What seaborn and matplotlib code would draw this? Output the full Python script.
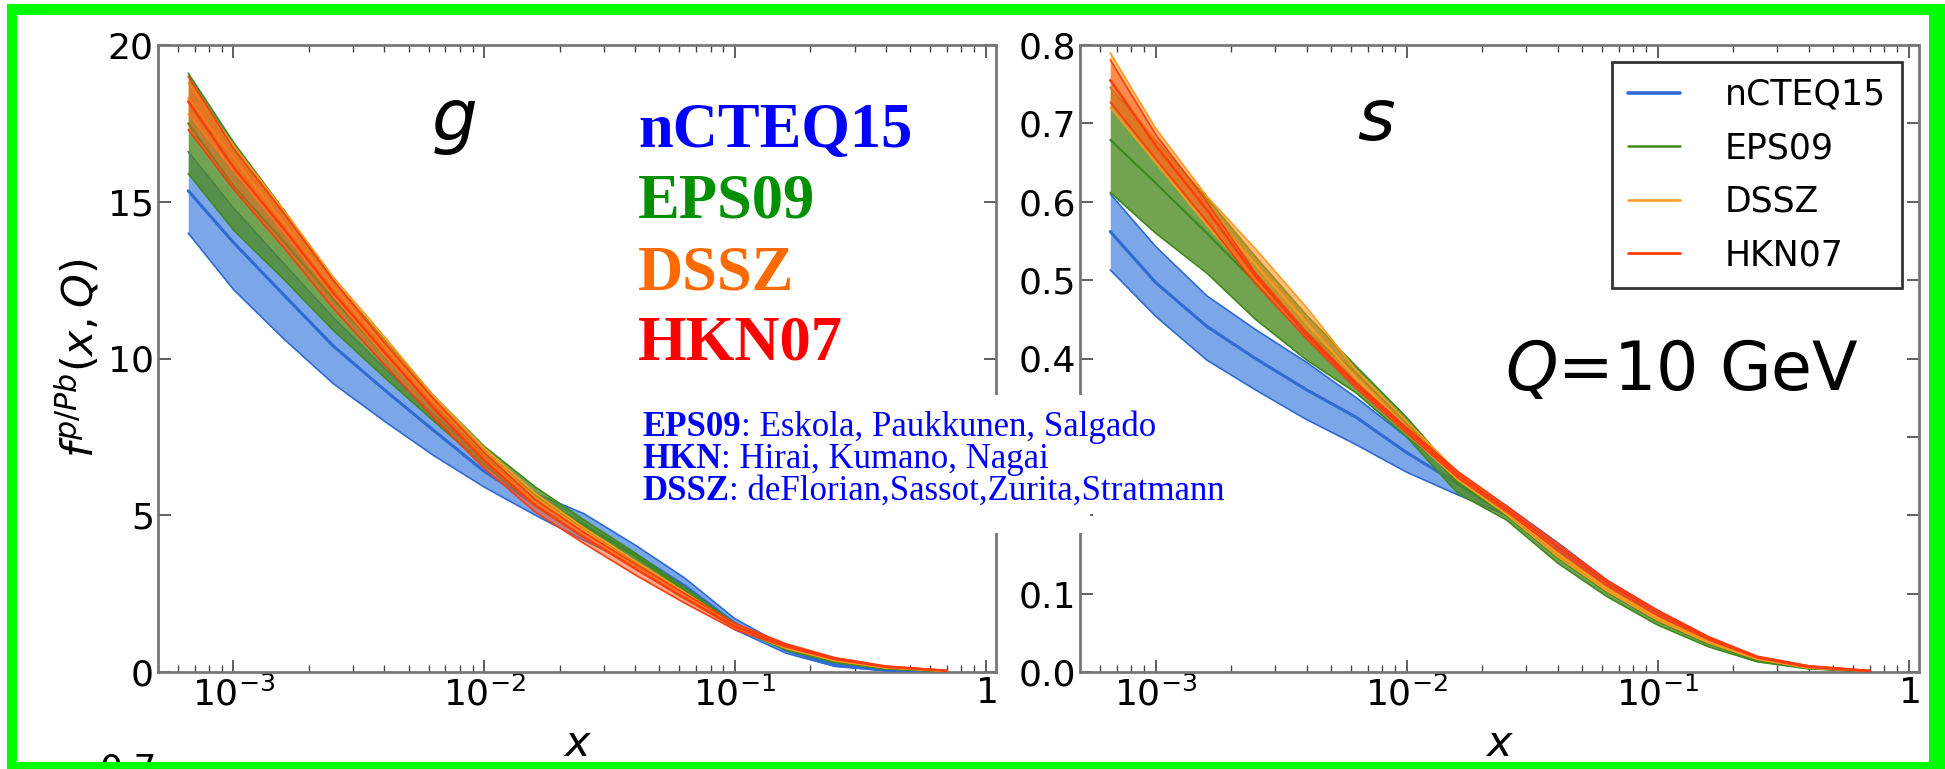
import matplotlib
matplotlib.use("Agg")
import numpy as np
import pandas as pd
import matplotlib.pyplot as plt
import seaborn as sns
from matplotlib.lines import Line2D
from matplotlib.patches import Rectangle
from matplotlib.ticker import FixedLocator, LogLocator, FixedFormatter, NullFormatter

# ---- data ----
x_vals = [6.6e-4, 1e-3, 1.6e-3, 2.5e-3, 4e-3, 6.3e-3, 1e-2, 1.6e-2, 2.5e-2,
          4e-2, 6.3e-2, 0.1, 0.16, 0.25, 0.4, 0.7]

sets = ["nCTEQ15", "EPS09", "DSSZ", "HKN07"]

# gluon panel (lower, central, upper)
g_ncteq_lo = [14.0, 12.2, 10.6, 9.2, 8.0, 6.9, 5.9, 5.0, 4.2, 3.4, 2.45, 1.35, 0.6, 0.18, 0.04, 0.0]
g_ncteq_c = [15.35, 13.7, 12.0, 10.4, 9.0, 7.7, 6.4, 5.35, 4.65, 3.75, 2.75, 1.55, 0.7, 0.22, 0.06, 0.0]
g_ncteq_hi = [16.6, 14.8, 13.0, 11.3, 9.7, 8.2, 6.85, 5.7, 5.05, 4.05, 3.0, 1.7, 0.8, 0.26, 0.07, 0.01]
g_eps_lo = [15.9, 14.1, 12.5, 10.9, 9.4, 8.0, 6.6, 5.3, 4.5, 3.5, 2.45, 1.4, 0.7, 0.3, 0.1, 0.02]
g_eps_c = [17.5, 15.5, 13.7, 11.9, 10.1, 8.5, 6.9, 5.6, 4.7, 3.7, 2.6, 1.48, 0.75, 0.33, 0.11, 0.02]
g_eps_hi = [19.1, 16.9, 14.7, 12.5, 10.6, 8.8, 7.2, 5.9, 4.85, 3.8, 2.7, 1.55, 0.8, 0.36, 0.12, 0.03]
g_dssz_lo = [17.8, 16.0, 14.0, 12.0, 10.1, 8.4, 6.8, 5.4, 4.4, 3.35, 2.35, 1.4, 0.75, 0.36, 0.13, 0.03]
g_dssz_c = [18.3, 16.4, 14.3, 12.3, 10.4, 8.6, 7.0, 5.55, 4.5, 3.45, 2.45, 1.45, 0.8, 0.38, 0.14, 0.03]
g_dssz_hi = [18.8, 16.8, 14.7, 12.6, 10.7, 8.8, 7.15, 5.7, 4.6, 3.55, 2.55, 1.5, 0.85, 0.4, 0.15, 0.04]
g_hkn_lo = [17.3, 15.4, 13.5, 11.6, 9.8, 8.1, 6.5, 5.1, 4.1, 3.1, 2.2, 1.35, 0.8, 0.4, 0.16, 0.04]
g_hkn_c = [18.2, 16.1, 14.1, 12.1, 10.2, 8.4, 6.75, 5.3, 4.3, 3.3, 2.35, 1.45, 0.85, 0.43, 0.17, 0.04]
g_hkn_hi = [19.0, 16.7, 14.6, 12.5, 10.5, 8.7, 7.0, 5.5, 4.45, 3.45, 2.5, 1.55, 0.9, 0.46, 0.19, 0.05]

# strange panel (lower, central, upper)
s_ncteq_lo = [0.513, 0.454, 0.398, 0.360, 0.322, 0.290, 0.255, 0.226, 0.200, 0.150, 0.105, 0.067, 0.038, 0.016, 0.005, 0.001]
s_ncteq_c = [0.562, 0.497, 0.441, 0.400, 0.360, 0.325, 0.280, 0.240, 0.207, 0.158, 0.111, 0.073, 0.041, 0.018, 0.006, 0.001]
s_ncteq_hi = [0.610, 0.543, 0.480, 0.437, 0.395, 0.350, 0.300, 0.250, 0.212, 0.165, 0.117, 0.077, 0.044, 0.019, 0.007, 0.001]
s_eps_lo = [0.612, 0.560, 0.509, 0.450, 0.398, 0.356, 0.300, 0.228, 0.194, 0.139, 0.096, 0.060, 0.032, 0.013, 0.004, 0.0005]
s_eps_c = [0.679, 0.624, 0.560, 0.497, 0.433, 0.382, 0.318, 0.240, 0.200, 0.146, 0.102, 0.065, 0.036, 0.015, 0.005, 0.001]
s_eps_hi = [0.746, 0.679, 0.605, 0.530, 0.455, 0.390, 0.325, 0.250, 0.206, 0.153, 0.108, 0.070, 0.039, 0.017, 0.006, 0.001]
s_dssz_lo = [0.720, 0.650, 0.570, 0.500, 0.430, 0.365, 0.305, 0.245, 0.201, 0.147, 0.103, 0.066, 0.037, 0.016, 0.005, 0.001]
s_dssz_c = [0.755, 0.675, 0.590, 0.520, 0.445, 0.375, 0.312, 0.250, 0.205, 0.151, 0.106, 0.069, 0.039, 0.017, 0.006, 0.001]
s_dssz_hi = [0.790, 0.694, 0.607, 0.540, 0.465, 0.385, 0.320, 0.255, 0.209, 0.155, 0.110, 0.072, 0.041, 0.018, 0.007, 0.001]
s_hkn_lo = [0.727, 0.655, 0.575, 0.495, 0.425, 0.362, 0.305, 0.248, 0.205, 0.155, 0.110, 0.072, 0.041, 0.018, 0.006, 0.001]
s_hkn_c = [0.755, 0.672, 0.590, 0.505, 0.430, 0.366, 0.309, 0.252, 0.208, 0.160, 0.114, 0.076, 0.043, 0.019, 0.007, 0.001]
s_hkn_hi = [0.781, 0.686, 0.600, 0.509, 0.433, 0.369, 0.312, 0.256, 0.212, 0.164, 0.117, 0.079, 0.045, 0.020, 0.008, 0.002]

x_ticks = [1e-3, 1e-2, 1e-1, 1.0]
x_tick_labels = [r"$10^{-3}$", r"$10^{-2}$", r"$10^{-1}$", r"$1$"]
g_yticks = [0, 5, 10, 15, 20]
s_yticks = [0.0, 0.1, 0.2, 0.3, 0.4, 0.5, 0.6, 0.7, 0.8]
# 0.2 and 0.3 sit under the pasted reference box in the picture
s_ytick_labels = ["0.0", "0.1", "", "", "0.4", "0.5", "0.6", "0.7", "0.8"]

# ---- styling ----
line_colors = ["#2f6bd3", "#3f8a1e", "#ff9a1f", "#ff3c0f"]
fill_colors = ["#6d9ce6", "#4f8c24", "#ff8c1a", "#ff5a1a"]
fill_alpha = [0.9, 0.8, 0.55, 0.5]
mid_width = [2.2, 1.6, 1.6, 1.8]

W, H = 1945, 769


def panel_frame(bands):
    rows = []
    for name, (lo, mid, hi) in zip(sets, bands):
        for kind, vals in (("lo", lo), ("mid", mid), ("hi", hi)):
            for xv, yv in zip(x_vals, vals):
                rows.append((name, kind, xv, yv))
    return pd.DataFrame(rows, columns=["set", "kind", "x", "f"])


g_df = panel_frame([(g_ncteq_lo, g_ncteq_c, g_ncteq_hi), (g_eps_lo, g_eps_c, g_eps_hi),
                    (g_dssz_lo, g_dssz_c, g_dssz_hi), (g_hkn_lo, g_hkn_c, g_hkn_hi)])
s_df = panel_frame([(s_ncteq_lo, s_ncteq_c, s_ncteq_hi), (s_eps_lo, s_eps_c, s_eps_hi),
                    (s_dssz_lo, s_dssz_c, s_dssz_hi), (s_hkn_lo, s_hkn_c, s_hkn_hi)])

sns.set_style("ticks")
plt.rcParams["font.family"] = ["DejaVu Sans"]
plt.rcParams["mathtext.fontset"] = "dejavusans"
for key in ["text.color", "axes.labelcolor", "xtick.labelcolor", "ytick.labelcolor"]:
    plt.rcParams[key] = "black"

fig = plt.figure(figsize=(W / 100, H / 100), dpi=100, facecolor="white")
ax1 = fig.add_axes([158 / W, 1 - 672 / H, (996 - 158) / W, (672 - 45) / H])
ax2 = fig.add_axes([1080 / W, 1 - 672 / H, (1919 - 1080) / W, (672 - 45) / H])


def draw_panel(ax, df, ymax, yticks, ylabels):
    for i, name in enumerate(sets):
        sub = df[df["set"] == name]
        lo = sub[sub["kind"] == "lo"]
        hi = sub[sub["kind"] == "hi"]
        ax.fill_between(lo["x"].values, lo["f"].values, hi["f"].values,
                        color=fill_colors[i], alpha=fill_alpha[i], lw=0, zorder=2 + 2 * i)
        edges = sub[sub["kind"] != "mid"]
        sns.lineplot(data=edges, x="x", y="f", units="kind", estimator=None,
                     color=line_colors[i], lw=1.2, ax=ax, legend=False, zorder=3 + 2 * i)
        sns.lineplot(data=sub[sub["kind"] == "mid"], x="x", y="f", estimator=None,
                     color=line_colors[i], lw=mid_width[i], ax=ax, legend=False, zorder=3 + 2 * i)
    ax.set_xscale("log")
    ax.set_xlim(5e-4, 1.1)
    ax.set_ylim(0, ymax)
    ax.xaxis.set_major_locator(FixedLocator(x_ticks))
    ax.xaxis.set_major_formatter(FixedFormatter(x_tick_labels))
    ax.xaxis.set_minor_locator(LogLocator(base=10, subs=np.arange(2, 10), numticks=20))
    ax.xaxis.set_minor_formatter(NullFormatter())
    ax.set_yticks(yticks)
    ax.set_yticklabels(ylabels)
    ax.tick_params(which="both", direction="in", top=True, right=True,
                   color="#444444", labelsize=26, pad=3, labelcolor="black")
    ax.tick_params(which="major", length=9, width=1.2)
    ax.tick_params(which="minor", length=5, width=1.0)
    for sp in ax.spines.values():
        sp.set_color("#777777")
        sp.set_linewidth(2)
        sp.set_visible(True)
    ax.set_xlabel(r"$x$", fontsize=31, labelpad=8, color="black")
    ax.set_ylabel("")


draw_panel(ax1, g_df, 20, g_yticks, [str(v) for v in g_yticks])
draw_panel(ax2, s_df, 0.8, s_yticks, s_ytick_labels)

ax1.set_ylabel(r"$f^{p/Pb}(x,Q)$", fontsize=31, labelpad=4, color="black")

ax1.text(0.353, 0.848, r"$g$", transform=ax1.transAxes, fontsize=52,
         ha="center", va="baseline", color="black")
ax2.text(0.353, 0.848, r"$s$", transform=ax2.transAxes, fontsize=52,
         ha="center", va="baseline", color="black")
ax2.text(0.507, 0.45, r"$Q$=10 GeV", transform=ax2.transAxes, fontsize=48,
         ha="left", va="baseline", color="black")

handles = [Line2D([], [], color=c, lw=w) for c, w in zip(line_colors, [2.6, 1.8, 1.8, 2.0])]
leg = ax2.legend(handles, sets, loc="upper right", fontsize=25, frameon=True,
                 fancybox=False, framealpha=1, edgecolor="#333333",
                 borderaxespad=0.5, borderpad=0.45, handlelength=1.5,
                 handletextpad=1.3, labelspacing=0.56)
leg.get_frame().set_linewidth(2)
for t in leg.get_texts():
    t.set_color("black")
leg.set_zorder(20)

# ---- overlay: pasted labels, reference box, green frame ----
ov = fig.add_axes([0, 0, 1, 1], zorder=10)
ov.set_xlim(0, W)
ov.set_ylim(H, 0)
ov.axis("off")

big_labels = [("nCTEQ15", "#0000ff", 147), ("EPS09", "#009000", 218),
              ("DSSZ", "#ff6a00", 289), ("HKN07", "#ff0000", 360)]
for txt, col, yb in big_labels:
    ov.text(638, yb, txt, color=col, fontsize=45, fontweight="bold",
            family="Liberation Serif", ha="left", va="baseline")

ov.add_patch(Rectangle((623, 395), 1090 - 623, 533 - 395, facecolor="white",
                       edgecolor="none", zorder=5))
refs = [("EPS09", ": Eskola, Paukkunen, Salgado", 444),
        ("HKN", ": Hirai, Kumano, Nagai", 476),
        ("DSSZ", ": deFlorian,Sassot,Zurita,Stratmann", 508)]
for bold, rest, yb in refs:
    t = ov.text(642, yb, bold, color="#0000ff", fontsize=25, fontweight="bold",
                family="Liberation Serif", ha="left", va="bottom", zorder=6)
    ov.annotate(rest, xy=(1, 0), xycoords=t, color="#0000ff", fontsize=25,
                family="Liberation Serif", ha="left", va="bottom", zorder=6)

ov.text(100, 752, "0.7", fontsize=26, ha="left", va="top", zorder=6, color="black")

green = "#00ff00"
for rx, ry, rw, rh in [(7, 4, W, 11), (7, 4, 10, H), (1929, 4, 30, H), (7, 762, W, 20)]:
    ov.add_patch(Rectangle((rx, ry), rw, rh, facecolor=green, edgecolor="none",
                           zorder=8, clip_on=False))

fig.savefig("out.png", dpi=100, facecolor="white")
